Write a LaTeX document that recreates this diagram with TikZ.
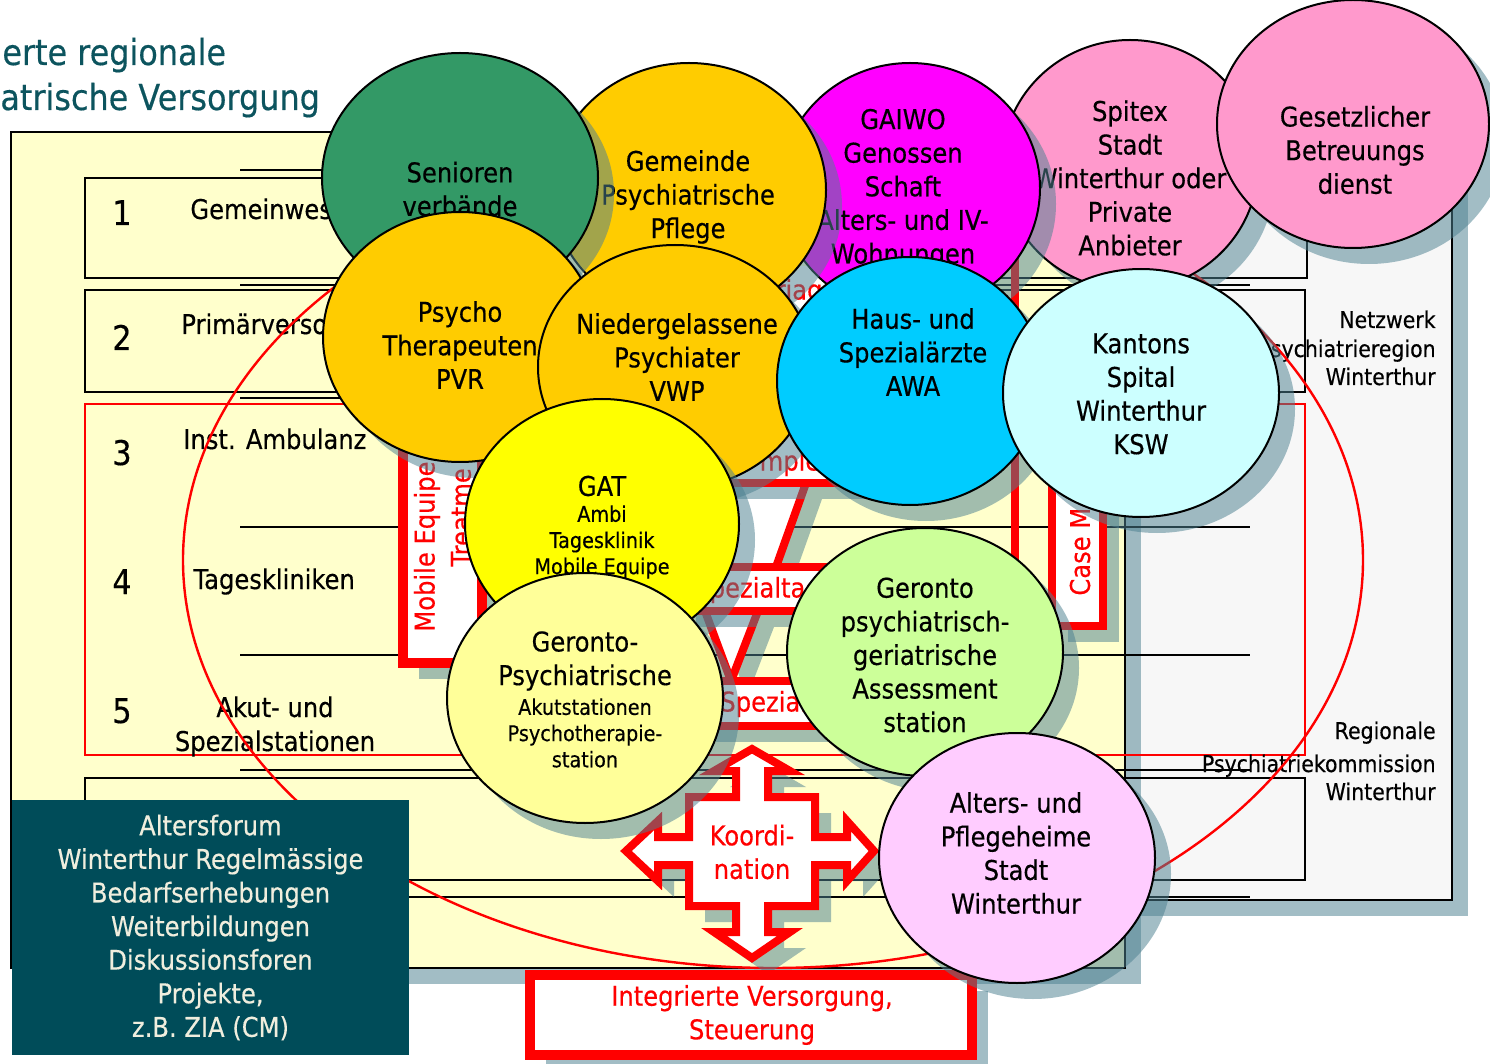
\documentclass[tikz,border=0pt]{standalone}
\usepackage{fontspec}
\setmainfont{DejaVu Sans}[FakeStretch=0.89,FakeBold=0.4]
\usetikzlibrary{shapes.geometric,shadows}

\definecolor{shc}{RGB}{77,129,145}
\definecolor{panelY}{RGB}{255,255,204}
\definecolor{panelG}{RGB}{247,247,247}
\definecolor{titleC}{RGB}{12,84,94}
\definecolor{darkBox}{RGB}{0,76,89}
\definecolor{cream}{RGB}{240,238,222}
\definecolor{cGreen}{RGB}{51,153,102}
\definecolor{cOrange}{RGB}{255,204,0}
\definecolor{cMagenta}{RGB}{255,0,255}
\definecolor{cPink}{RGB}{255,153,204}
\definecolor{cCyan}{RGB}{0,204,255}
\definecolor{cLCyan}{RGB}{204,255,255}
\definecolor{cYellow}{RGB}{255,255,0}
\definecolor{cLYellow}{RGB}{255,255,153}
\definecolor{cLGreen}{RGB}{204,255,153}
\definecolor{cLViolet}{RGB}{255,204,255}
\definecolor{pred}{RGB}{255,0,0}

\newcommand\fMain{\fontsize{13.6}{16.8}\selectfont}
\newcommand\fSmall{\fontsize{10.8}{13.1}\selectfont}
\newcommand\fNum{\fontsize{17}{20}\selectfont}
\newcommand\fSide{\fontsize{11.5}{14.5}\selectfont}
\newcommand\fTitle{\fontsize{17.9}{22.5}\selectfont}

\tikzset{
 shd/.style={drop shadow={shadow xshift=8pt,shadow yshift=-8pt,fill=shc,opacity=0.52}},
 bub/.style n args={3}{ellipse, draw=black, line width=1pt, fill=#1, minimum width=#2, minimum height=#3, inner sep=0pt, shd},
 txt/.style={inner sep=0pt, align=center, font=\fMain, text=black},
 stxt/.style={inner sep=0pt, align=center, font=\fSmall, text=black},
 rtxt/.style={inner sep=0pt, font=\fMain, text=pred},
 rband/.style={draw=pred, line width=4pt, fill=white, shd},
 sepline/.style={draw=black, line width=0.9pt},
 rowbox/.style={draw=black, line width=0.6pt},
 lbl/.style={inner sep=0pt, font=\fMain, anchor=base west},
 numlbl/.style={inner sep=0pt, font=\fNum, anchor=base},
 side/.style={inner sep=0pt, font=\fSide, anchor=base east},
}

\begin{document}
\begin{tikzpicture}[x=0.5pt,y=-0.5pt]
\useasboundingbox (0,0) rectangle (1490,1064);
\fill[white] (0,0) rectangle (1490,1064);

% title
\node[inner sep=0pt, anchor=base west, font=\fTitle, text=titleC] (t1) at (2,65) {erte regionale};
\node[inner sep=0pt, anchor=base west, font=\fTitle, text=titleC] (t2) at (0,110) {atrische Versorgung};

% panels
\path[fill=panelG, draw=black, line width=1.2pt, shd] (1060,140) rectangle (1452,900);
\path[fill=panelY, draw=black, line width=1.2pt, shd] (11,132) rectangle (1125,968);

% row boxes and separators
\draw[rowbox] (85,178) rectangle (1307,278);
\draw[rowbox] (85,290) rectangle (1305,392);
\draw[rowbox] (85,778) rectangle (1305,880);
\draw[draw=pred, line width=0.6pt] (85,404) rectangle (1305,755);
\foreach \yy in {170,285,398,527,655,770,897} \draw[sepline] (240,\yy) -- (1250,\yy);

% row labels
\node[numlbl] (n1) at (122,225) {1};
\node[lbl] (l1) at (190,219) {Gemeinwes};
\node[numlbl] (n2) at (122,350) {2};
\node[lbl] (l2) at (181,334) {Primärverso};
\node[numlbl] (n3) at (122,465) {3};
\node[lbl] (l3) at (183,449) {Inst. Ambulanz};
\node[numlbl] (n4) at (122,594) {4};
\node[lbl] (l4) at (193,589) {Tageskliniken};
\node[numlbl] (n5) at (122,723) {5};
\node[inner sep=0pt, font=\fMain, anchor=base] (l5a) at (275,717) {Akut- und};
\node[inner sep=0pt, font=\fMain, anchor=base] (l5b) at (275,751) {Spezialstationen};

% right panel texts
\node[side] (s1) at (1436,328) {Netzwerk};
\node[side] (s2) at (1436,357) {sychiatrieregion};
\node[side] (s3) at (1436,385) {Winterthur};
\node[side] (s4) at (1436,739) {Regionale};
\node[side] (s5) at (1436,772) {Psychiatriekommission};
\node[side] (s6) at (1436,800) {Winterthur};

% red ellipse
\draw[pred, line width=1.2pt] (773,560) ellipse [x radius=295pt, y radius=204pt];

% dark box
\node[fill=darkBox, text=cream, font=\fMain, align=center, inner sep=0pt,
      minimum width=198.5pt, minimum height=127.5pt] (forum) at (210.5,927.5)
  {Altersforum\\Winterthur Regelmässige\\Bedarfserhebungen\\Weiterbildungen\\Diskussionsforen\\Projekte,\\z.B. ZIA (CM)};

% background red items
\path[fill=white, shd] (740,266) rectangle (872,318);
\node[rtxt] (triage) at (799,292) {riag};
\draw[pred, line width=4pt] (1015,250) -- (1015,600);

\path[rband, line width=5pt] (403,430) rectangle (482,663);
\node[rtxt, rotate=90, anchor=west] (mob1) at (427,632) {Mobile Equipe};
\node[rtxt, rotate=90, anchor=west] (mob2) at (461,567) {Treatme};

\path[rband] (1052,470) rectangle (1103,626);
\node[rtxt, rotate=90, anchor=west] (case) at (1080,596) {Case M};

\path[fill=white, shd] (690,483) -- (806,483) -- (776,567) -- (690,567) -- cycle;
\draw[pred, line width=4pt] (806,483) -- (776,567);
\path[fill=white, shd] (705,611) -- (758,611) -- (731,681) -- cycle;
\draw[pred, line width=4pt] (705,611) -- (731,681) -- (758,611);

\path[rband] (650,420) rectangle (860,483);
\node[rtxt] (kx) at (790,463) {mple};
\path[rband] (680,567) rectangle (915,611);
\node[rtxt, anchor=west] (sptag) at (694,590) {Spezialtag};
\path[rband] (700,681) rectangle (880,726);
\node[rtxt, anchor=west] (spst) at (720,704) {Spezial};

% coordination cross
\path[draw=pred, line width=4pt, fill=white, shd]
 (752,749) -- (790,771) -- (768,771) -- (768,797) -- (815,797) -- (815,837) -- (847,837) -- (847,821)
 -- (874,851) -- (847,881) -- (847,865) -- (815,865) -- (815,906) -- (768,906) -- (768,932) -- (790,932)
 -- (752,958) -- (714,932) -- (736,932) -- (736,906) -- (689,906) -- (689,865) -- (658,865) -- (658,881)
 -- (626,851) -- (658,821) -- (658,837) -- (689,837) -- (689,797) -- (736,797) -- (736,771) -- (714,771) -- cycle;
\node[rtxt, align=center] (koord) at (752,852) {Koordi-\\nation};

% integrated care box
\path[rband, line width=5pt] (530,975) rectangle (972,1055);
\node[rtxt, align=center] (integ) at (752,1015) {Integrierte Versorgung,\\Steuerung};

% circles
\node[bub={cPink}{128pt}{125pt}] (spitex) at (1130,165) {};
\node[txt] (spitexT) at (1130,178) {Spitex\\Stadt\\Winterthur oder\\Private\\Anbieter};

\node[bub={cMagenta}{130pt}{125pt}] (gaiwo) at (910,188) {};
\node[txt] (gaiwoT) at (903,189) {GAIWO\\Genossen\\Schaft\\Alters- und IV-\\Wohnungen};

\node[bub={cOrange}{137pt}{127pt}] (gem) at (689,190) {};
\node[txt] (gemT) at (688,197) {Gemeinde\\Psychiatrische\\Pflege};

\node[bub={cGreen}{138pt}{125pt}] (sen) at (460,178) {};
\node[txt] (senT) at (460,189) {Senioren\\verbände};

\node[bub={cPink}{136pt}{124pt}] (ges) at (1353,124) {};
\node[txt] (gesT) at (1355,150) {Gesetzlicher\\Betreuungs\\dienst};

\node[bub={cOrange}{137pt}{125pt}] (psy) at (460,337) {};
\node[txt] (psyT) at (460,345) {Psycho\\Therapeuten\\PVR};

\node[bub={cOrange}{137pt}{122pt}] (nied) at (675,367) {};
\node[txt] (niedT) at (677,357) {Niedergelassene\\Psychiater\\VWP};

\node[bub={cCyan}{133pt}{124pt}] (awa) at (910,381) {};
\node[txt] (awaT) at (913,352) {Haus- und\\Spezialärzte\\AWA};

\node[bub={cLCyan}{138pt}{124pt}] (ksw) at (1141,393) {};
\node[txt] (kswT) at (1141,394) {Kantons\\Spital\\Winterthur\\KSW};

\node[bub={cYellow}{137pt}{125pt}] (gat) at (602,524) {};
\node[txt] (gatT) at (602,486) {GAT};
\node[stxt] (gatS) at (602,542) {Ambi\\Tagesklinik\\Mobile Equipe};

\node[bub={cLYellow}{138pt}{125pt}] (gpa) at (585,698) {};
\node[txt] (gpaT) at (585,661) {Geronto-\\Psychiatrische};
\node[stxt] (gpaS) at (585,733) {Akutstationen\\Psychotherapie-\\station};

\node[bub={cLGreen}{138pt}{124pt}] (gga) at (925,652) {};
\node[txt] (ggaT) at (925,655) {Geronto\\psychiatrisch-\\geriatrische\\Assessment\\station};

\node[bub={cLViolet}{138pt}{125pt}] (aph) at (1017,858) {};
\node[txt] (aphT) at (1016,853) {Alters- und\\Pflegeheime\\Stadt\\Winterthur};
\end{tikzpicture}
\end{document}
